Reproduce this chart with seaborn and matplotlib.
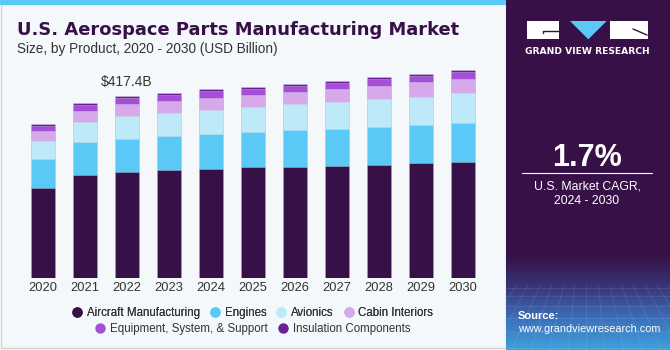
import numpy as np
import pandas as pd
import matplotlib
matplotlib.use("Agg")
import matplotlib.pyplot as plt
import seaborn as sns
from matplotlib.patches import Rectangle, Polygon
from matplotlib.lines import Line2D
from matplotlib.colors import LinearSegmentedColormap

# ---------------- data ----------------
years = ["2020", "2021", "2022", "2023", "2024", "2025", "2026", "2027", "2028", "2029", "2030"]
aircraft = [207.4, 236.5, 242.7, 247.3, 251.0, 254.1, 255.5, 257.8, 259.4, 264.7, 266.3]
engines = [65.7, 74.9, 76.9, 78.5, 79.4, 80.8, 84.0, 83.3, 86.3, 86.3, 90.0]
avionics = [41.2, 47.2, 51.3, 52.0, 55.6, 56.6, 58.8, 62.5, 65.5, 64.8, 67.3]
cabin = [22.2, 25.2, 28.2, 28.2, 27.5, 28.2, 28.2, 29.1, 29.8, 33.0, 32.1]
equipment = [12.1, 13.7, 14.4, 14.4, 15.3, 14.4, 14.4, 15.1, 14.7, 15.1, 17.4]
insulation = [3.9, 3.9, 3.9, 3.9, 3.9, 4.6, 4.6, 4.6, 4.6, 4.6, 4.6]

series_names = ["Aircraft Manufacturing", "Engines", "Avionics", "Cabin Interiors",
                "Equipment, System, & Support", "Insulation Components"]
series_values = [aircraft, engines, avionics, cabin, equipment, insulation]
series_colors = ["#371047", "#5bc9f5", "#bde9f9", "#d5a9ea", "#a44fd6", "#6a1f99"]

annot_text = "$417.4B"
annot_index = 2

title = "U.S. Aerospace Parts Manufacturing Market"
subtitle = "Size, by Product, 2020 - 2030 (USD Billion)"
cagr = "1.7%"

# ---------------- figure ----------------
W, H = 670, 350
fig = plt.figure(figsize=(W / 100, H / 100), dpi=100)
fig.patch.set_facecolor("white")
sns.set_style("white")
plt.rcParams["font.family"] = ["Liberation Sans", "DejaVu Sans"]


def fx(px):
    return px / W


def fy(py):
    return 1 - py / H


# background panel
bg = fig.add_axes([0, 0, 1, 1], zorder=0)
bg.set_xlim(0, W)
bg.set_ylim(H, 0)
bg.axis("off")
bg.add_patch(Rectangle((0.5, 4), 505, 344, facecolor="#f4f8fb", edgecolor="#cfd3d6", lw=1))
bg.add_patch(Rectangle((0, 0), 506, 4.5, facecolor="#5bc9f5", edgecolor="none"))
# right panel
bg.add_patch(Rectangle((505.7, 0), W - 505.7, H, facecolor="#371047", edgecolor="none"))
grad = LinearSegmentedColormap.from_list("g", ["#371047", "#383577", "#3c6fba", "#3fa0dc"])
gimg = np.linspace(0, 1, 100).reshape(-1, 1)
bg.imshow(gimg, extent=(505.7, W, 350, 255), cmap=grad, aspect="auto", zorder=1, origin="upper")
# faint grid texture
for xv in np.linspace(505, 680, 16):
    bg.plot([xv, 587 + (xv - 587) * 1.6], [285, 350], color="white", alpha=0.12, lw=0.5, zorder=2)
for yv in [288, 296, 306, 318, 332, 348]:
    bg.plot([505.7, W], [yv, yv], color="white", alpha=0.12, lw=0.5, zorder=2)

# logo
bg.add_patch(Rectangle((526.7, 21), 32.6, 18.3, facecolor="white", edgecolor="none", zorder=3))
bg.plot([543, 543, 558], [33, 30.5, 30.5], color="#371047", lw=1.0, zorder=4)
bg.add_patch(Polygon([[570, 21], [606.7, 21], [588.3, 39.3]], closed=True, facecolor="#5bc9f5",
                     edgecolor="none", zorder=3))
bg.add_patch(Rectangle((610, 21), 37.7, 18.3, facecolor="white", edgecolor="none", zorder=3))
bg.plot([633, 647], [29, 35], color="#371047", lw=1.0, zorder=4)
fig.text(fx(587.3), fy(51), "GRAND VIEW RESEARCH", color="white", fontsize=6.6, fontweight="bold",
         family="DejaVu Sans", ha="center", va="center")

# right panel texts
fig.text(fx(587), fy(166), cagr, color="white", fontsize=22, fontweight="bold",
         ha="center", va="baseline")
bg.plot([522, 652], [173.3, 173.3], color="white", lw=0.8, zorder=4)
fig.text(fx(587), fy(186.5), "U.S. Market CAGR,", color="white", fontsize=8.8,
         ha="center", va="center")
fig.text(fx(587), fy(201), "2024 - 2030", color="white", fontsize=8.8,
         ha="center", va="center")
fig.text(fx(518), fy(316), "Source:", color="white", fontsize=8, fontweight="bold",
         ha="left", va="center")
fig.text(fx(518), fy(329.5), "www.grandviewresearch.com", color="white", fontsize=7.8,
         ha="left", va="center")

# titles
fig.text(fx(17), fy(35), title, color="#371047", fontsize=12.9, fontweight="bold",
         family="DejaVu Sans", ha="left", va="baseline")
fig.text(fx(17), fy(53.5), subtitle, color="#333333", fontsize=9.8,
         ha="left", va="baseline")

# ---------------- chart ----------------
ax_left, ax_right = 21.8, 483.8
ax_bottom, ax_top = 278.3, 59.9
ax = fig.add_axes([fx(ax_left), fy(ax_bottom), fx(ax_right - ax_left), (ax_bottom - ax_top) / H],
                  zorder=5)
ax.patch.set_alpha(0)

df = pd.DataFrame({"year": years})
cum = np.zeros(len(years))
cums = []
for vals in series_values:
    cum = cum + np.array(vals)
    cums.append(cum.copy())
for i in range(len(series_values) - 1, -1, -1):
    df["cum"] = cums[i]
    sns.barplot(data=df, x="year", y="cum", order=years, color=series_colors[i],
                saturation=1, width=0.57, ax=ax, edgecolor=(0.85, 0.85, 0.9, 0.5),
                linewidth=0.5, errorbar=None)

ax.set_xlim(-0.5, len(years) - 0.5)
ax.set_ylim(0, 500)
ax.set_xlabel("")
ax.set_ylabel("")
ax.set_yticks([])
ax.tick_params(axis="x", length=0, pad=3, labelsize=9.3, labelcolor="#333333")
for s in ax.spines.values():
    s.set_visible(False)

ax.annotate(annot_text, xy=(annot_index, cums[-1][annot_index]), xytext=(0, 7.3),
            textcoords="offset points", ha="center", va="baseline", fontsize=10,
            color="#333333")

# legend: two centered rows
handles = [Line2D([], [], marker="o", linestyle="none", markersize=7.5,
                  markerfacecolor=c, markeredgecolor="none") for c in series_colors]
cx = fx((ax_left + ax_right) / 2)
leg1 = fig.legend(handles[:4], series_names[:4], loc="center", bbox_to_anchor=(cx, fy(312.7)),
                  ncol=4, frameon=False, fontsize=8.3, handlelength=0.8, handletextpad=0.45,
                  columnspacing=0.9, labelcolor="#333333", borderpad=0, borderaxespad=0)
leg2 = fig.legend(handles[4:], series_names[4:], loc="center", bbox_to_anchor=(cx, fy(329)),
                  ncol=2, frameon=False, fontsize=8.3, handlelength=0.8, handletextpad=0.45,
                  columnspacing=0.9, labelcolor="#333333", borderpad=0, borderaxespad=0)
fig.add_artist(leg1)

fig.savefig("out.png", dpi=100, facecolor=fig.get_facecolor())
